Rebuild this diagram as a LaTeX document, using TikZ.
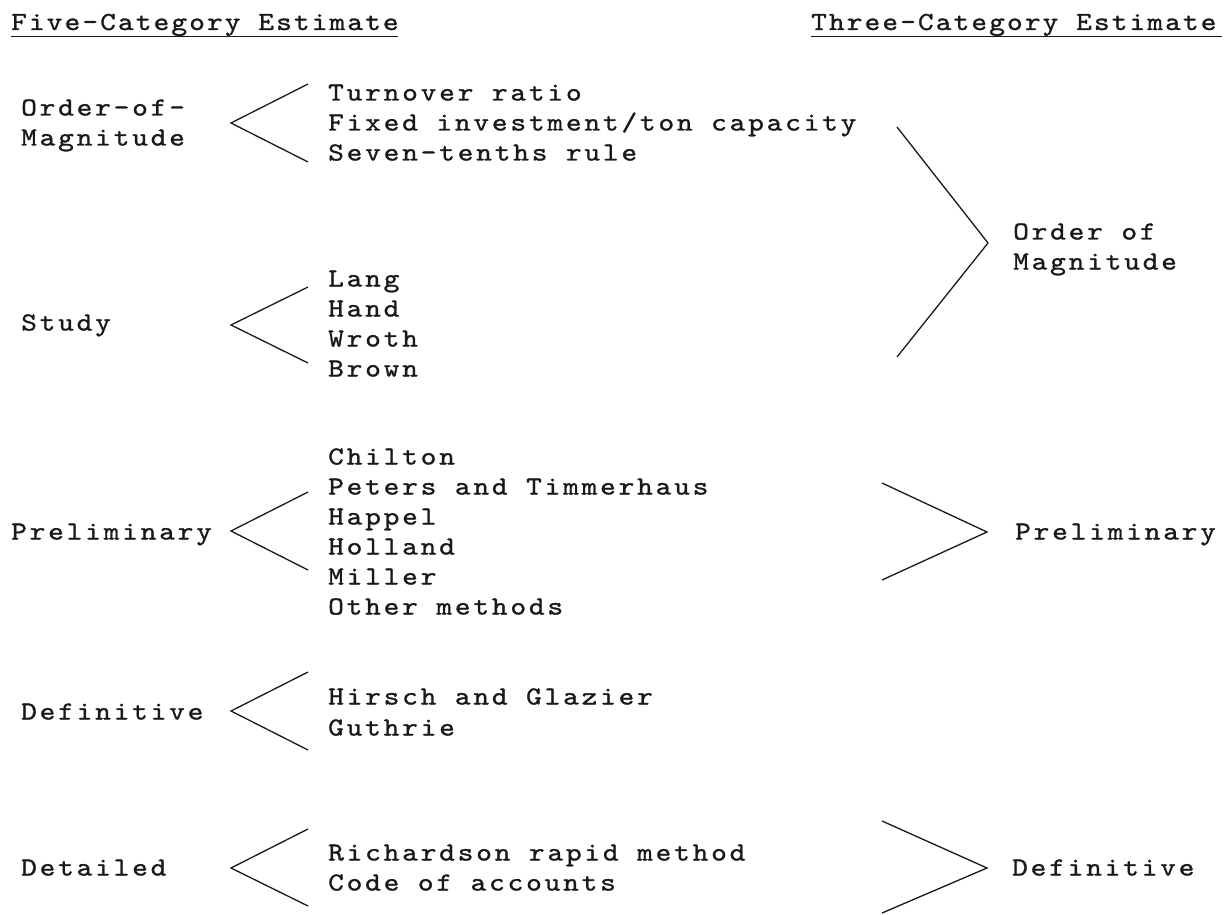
\documentclass[tikz,border=0pt]{standalone}
\usepackage{fontspec}
\newfontfamily\tw{lmmono10-regular}[Extension=.otf,FakeStretch=1.15,LetterSpace=10.8,FakeBold=1.1]
\newfontfamily\twh{lmmono10-regular}[Extension=.otf,FakeStretch=1.15,LetterSpace=8.1,FakeBold=1.1]
\tikzset{
  txt/.style={font=\tw\fontsize{26}{30}\selectfont, inner sep=0pt, anchor=base west, text=black!90},
  head/.style={font=\twh\fontsize{26}{30}\selectfont, inner sep=0pt, anchor=base west, text=black!90},
  brk/.style={line width=1.3pt, black!90},
  rule/.style={line width=1.3pt, black!90}
}
\begin{document}
\begin{tikzpicture}[x=1pt,y=-1pt]
\useasboundingbox[fill=white] (0,0) rectangle (1227,915);
% headers
\node[head] (h5) at (11,30) {Five-Category Estimate};
\node[head] (h3) at (811,30) {Three-Category Estimate};
\coordinate (h5a) at (11,36.5); \coordinate (h5b) at (398,36.5);
\coordinate (h3a) at (811,36.5); \coordinate (h3b) at (1222,36.5);
\draw[rule] (h5a) -- (h5b);
\draw[rule] (h3a) -- (h3b);
% left labels
\node[txt] (oom1) at (21,115.5) {Order-of-};
\node[txt] (oom2) at (21,145.5) {Magnitude};
\node[txt] (study) at (21,330.5) {Study};
\node[txt] (prel) at (11,539.5) {Preliminary};
\node[txt] (defl) at (21,719.5) {Definitive};
\node[txt] (det) at (21,875.5) {Detailed};
% item lists
\node[txt] (i1) at (328,100.5) {Turnover ratio};
\node[txt] (i2) at (328,130.5) {Fixed investment/ton capacity};
\node[txt] (i3) at (328,160.5) {Seven-tenths rule};
\node[txt] (i4) at (328,286.5) {Lang};
\node[txt] (i5) at (328,316.5) {Hand};
\node[txt] (i6) at (328,346.5) {Wroth};
\node[txt] (i7) at (328,376.5) {Brown};
\node[txt] (i8) at (328,464.5) {Chilton};
\node[txt] (i9) at (328,494.5) {Peters and Timmerhaus};
\node[txt] (i10) at (328,524.5) {Happel};
\node[txt] (i11) at (328,554.5) {Holland};
\node[txt] (i12) at (328,584.5) {Miller};
\node[txt] (i13) at (328,614.5) {Other methods};
\node[txt] (i14) at (328,704.5) {Hirsch and Glazier};
\node[txt] (i15) at (328,735.5) {Guthrie};
\node[txt] (i16) at (328,860.5) {Richardson rapid method};
\node[txt] (i17) at (328,890.5) {Code of accounts};
% right labels
\node[txt] (r1) at (1013,239.5) {Order of};
\node[txt] (r2) at (1013,269.5) {Magnitude};
\node[txt] (r3) at (1015,539.5) {Preliminary};
\node[txt] (r4) at (1012,875.5) {Definitive};
% left brackets
\coordinate (a1t) at (308,84);  \coordinate (a1v) at (231,123); \coordinate (a1b) at (308,162);
\coordinate (a2t) at (308,287); \coordinate (a2v) at (231,325); \coordinate (a2b) at (308,363);
\coordinate (a3t) at (308,492); \coordinate (a3v) at (231,531); \coordinate (a3b) at (308,570);
\coordinate (a4t) at (308,672); \coordinate (a4v) at (231,711); \coordinate (a4b) at (308,750);
\coordinate (a5t) at (308,829); \coordinate (a5v) at (231,868); \coordinate (a5b) at (308,906);
\draw[brk] (a1t) -- (a1v) -- (a1b);
\draw[brk] (a2t) -- (a2v) -- (a2b);
\draw[brk] (a3t) -- (a3v) -- (a3b);
\draw[brk] (a4t) -- (a4v) -- (a4b);
\draw[brk] (a5t) -- (a5v) -- (a5b);
% right brackets
\coordinate (b1t) at (897,127); \coordinate (b1v) at (988,243); \coordinate (b1b) at (897,357);
\coordinate (b2t) at (882,483); \coordinate (b2v) at (987,532); \coordinate (b2b) at (882,580);
\coordinate (b3t) at (882,821); \coordinate (b3v) at (987,868); \coordinate (b3b) at (882,913);
\draw[brk] (b1t) -- (b1v) -- (b1b);
\draw[brk] (b2t) -- (b2v) -- (b2b);
\draw[brk] (b3t) -- (b3v) -- (b3b);
\end{tikzpicture}
\end{document}
